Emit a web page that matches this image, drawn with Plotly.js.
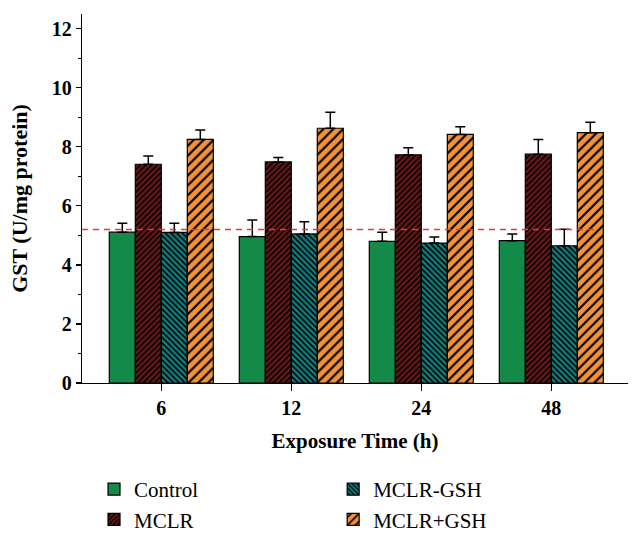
<!DOCTYPE html>
<html>
<head>
<meta charset="utf-8">
<script src="https://cdn.plot.ly/plotly-3.0.1.min.js"></script>
<style>
  html, body { margin: 0; padding: 0; background: #fff; }
  #plot { width: 642px; height: 539px; }
</style>
</head>
<body>
<div id="plot"></div>
<script>
// =========================
// Data
// =========================
const times = ['6', '12', '24', '48'];

const control     = [5.11, 4.96, 4.80, 4.82];
const controlErr  = [0.30, 0.56, 0.31, 0.23];

const mclr        = [7.41, 7.49, 7.73, 7.75];
const mclrErr     = [0.28, 0.15, 0.24, 0.50];

const mclrMinusGsh    = [5.10, 5.05, 4.74, 4.65];
const mclrMinusGshErr = [0.31, 0.41, 0.21, 0.56];

const mclrPlusGsh     = [8.25, 8.63, 8.42, 8.48];
const mclrPlusGshErr  = [0.32, 0.54, 0.26, 0.35];

const refLevel = 5.2; // red dashed control level

// =========================
// Helpers
// =========================
function upErr(vals) {
  return {
    type: 'data',
    symmetric: false,
    array: vals,
    arrayminus: vals.map(() => 0),
    color: '#000',
    thickness: 1.5,
    width: 5
  };
}

function barTrace(name, y, err, fill, pattern, legend, rank) {
  const marker = { color: fill, line: { color: '#000', width: 1.2 } };
  if (pattern) marker.pattern = pattern;
  return {
    type: 'bar',
    name: name,
    x: times,
    y: y,
    error_y: upErr(err),
    marker: marker,
    legend: legend,
    legendrank: rank,
    hoverinfo: 'y'
  };
}

const serif = 'Liberation Serif';
const legendFont = { family: serif, size: 21, color: '#000', weight: 'normal' };

const data = [
  barTrace('Control', control, controlErr, '#138a48', null, 'legend', 1),
  barTrace('MCLR', mclr, mclrErr, '#5a1515',
    { shape: '/', bgcolor: '#6a1818', fgcolor: '#000', size: 4, solidity: 0.4 }, 'legend', 2),
  barTrace('MCLR-GSH', mclrMinusGsh, mclrMinusGshErr, '#0e6f6f',
    { shape: '\\', bgcolor: '#118080', fgcolor: '#000', size: 4, solidity: 0.4 }, 'legend2', 3),
  barTrace('MCLR+GSH', mclrPlusGsh, mclrPlusGshErr, '#f2923a',
    { shape: '/', bgcolor: '#f2923a', fgcolor: '#000', size: 7, solidity: 0.3 }, 'legend2', 4)
];

const layout = {
  width: 642,
  height: 539,
  margin: { l: 82, r: 14, t: 14, b: 156, autoexpand: false },
  paper_bgcolor: '#fff',
  plot_bgcolor: '#fff',
  showlegend: true,
  barmode: 'group',
  bargap: 0.2,
  bargroupgap: 0,
  font: { family: serif, color: '#000' },
  xaxis: {
    type: 'category',
    range: [-0.61, 3.59],
    showline: true,
    linecolor: '#000',
    linewidth: 1.2,
    showgrid: false,
    zeroline: false,
    ticks: 'outside',
    ticklen: 7,
    tickwidth: 1.2,
    tickcolor: '#000',
    ticklabelstandoff: 0,
    tickfont: { family: serif, size: 20, weight: 'bold' },
    title: { text: 'Exposure Time (h)', font: { family: serif, size: 21, weight: 'bold' }, standoff: 15 }
  },
  yaxis: {
    range: [0, 12.5],
    dtick: 2,
    tick0: 0,
    showline: true,
    linecolor: '#000',
    linewidth: 1.2,
    showgrid: false,
    zeroline: false,
    ticks: 'outside',
    ticklen: 5,
    tickwidth: 1.2,
    tickcolor: '#000',
    minor: { dtick: 1, ticks: 'outside', ticklen: 3, tickwidth: 1, tickcolor: '#000', showgrid: false },
    tickfont: { family: serif, size: 20, weight: 'bold' },
    title: { text: 'GST (U/mg protein)', font: { family: serif, size: 22, weight: 'bold' }, standoff: 18 }
  },
  legend: {
    x: 0.022, xanchor: 'left',
    y: -0.233, yanchor: 'top',
    orientation: 'v',
    font: legendFont,
    bgcolor: 'rgba(0,0,0,0)',
    tracegroupgap: 0
  },
  legend2: {
    x: 0.46, xanchor: 'left',
    y: -0.233, yanchor: 'top',
    orientation: 'v',
    font: legendFont,
    bgcolor: 'rgba(0,0,0,0)',
    tracegroupgap: 0
  },
  shapes: [{
    type: 'line',
    xref: 'paper', yref: 'y',
    x0: 0, x1: 0.945,
    y0: refLevel, y1: refLevel,
    line: { color: '#e23a3a', width: 1.5, dash: '6px,5px' },
    layer: 'above'
  }]
};

Plotly.newPlot('plot', data, layout, { displayModeBar: false, staticPlot: true });
</script>
</body>
</html>
